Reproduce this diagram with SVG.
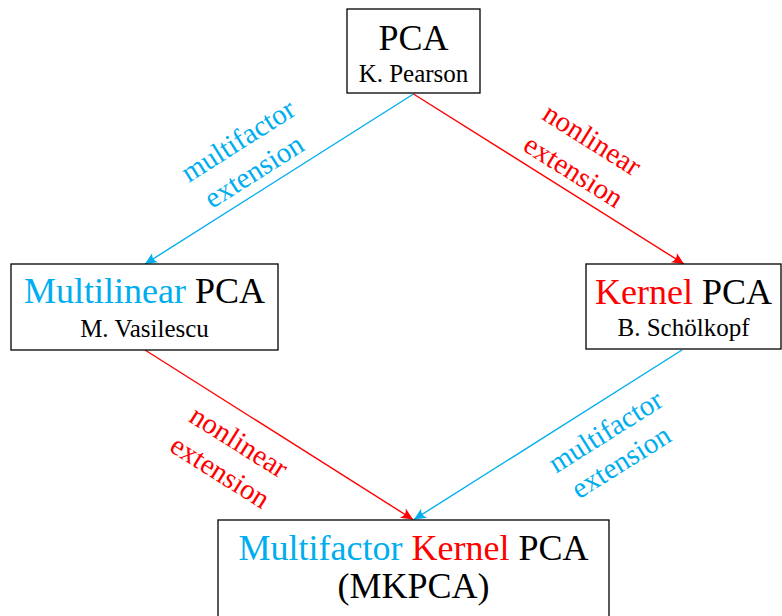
<svg xmlns="http://www.w3.org/2000/svg" width="782" height="616" viewBox="0 0 782 616">
<style>
  text { font-family: "Liberation Serif", "Times New Roman", serif; text-anchor: middle; }
  .box { fill: #ffffff; stroke: #000000; stroke-width: 1.3; }
  .title { font-size: 36px; fill: #000000; }
  .sub { font-size: 25px; fill: #000000; }
  .lbl { font-size: 29px; }
  .blue { fill: #00AEEF; }
  .red { fill: #FF0000; }
  .eb { stroke: #00AEEF; stroke-width: 1.4; fill: none; marker-end: url(#ab); }
  .er { stroke: #FF0000; stroke-width: 1.4; fill: none; marker-end: url(#ar); }
</style>
<defs>
  <marker id="ab" markerUnits="userSpaceOnUse" viewBox="-13 -7 14 14" refX="0" refY="0" markerWidth="14" markerHeight="14" orient="auto">
    <path d="M0,0 L-12,-5.5 Q-7.5,0 -12,5.5 Z" fill="#00AEEF"/>
  </marker>
  <marker id="ar" markerUnits="userSpaceOnUse" viewBox="-13 -7 14 14" refX="0" refY="0" markerWidth="14" markerHeight="14" orient="auto">
    <path d="M0,0 L-12,-5.5 Q-7.5,0 -12,5.5 Z" fill="#FF0000"/>
  </marker>
</defs>
<rect width="782" height="616" fill="#ffffff"/>
<g id="connectors">
  <line class="eb" x1="413.5" y1="94" x2="145" y2="264"/>
  <line class="er" x1="413.5" y1="94" x2="684" y2="264"/>
  <line class="er" x1="145" y1="350" x2="413" y2="519.5"/>
  <line class="eb" x1="682" y1="350" x2="414" y2="519.5"/>
  <g transform="translate(279,179) rotate(-32.4)">
    <text class="lbl blue" x="-14" y="-45">multifactor</text>
    <text class="lbl blue" x="-17" y="-10.5">extension</text>
  </g>
  <g transform="translate(548.5,179) rotate(32.1)">
    <text class="lbl red" x="16" y="-47">nonlinear</text>
    <text class="lbl red" x="17" y="-10.5">extension</text>
  </g>
  <g transform="translate(279,434.5) rotate(32.2)">
    <text class="lbl red" x="-30" y="37">nonlinear</text>
    <text class="lbl red" x="-30" y="72.5">extension</text>
  </g>
  <g transform="translate(547,434.5) rotate(-32.2)">
    <text class="lbl blue" x="51" y="38">multifactor</text>
    <text class="lbl blue" x="48" y="72">extension</text>
  </g>
</g>
<g id="pca">
  <rect class="box" x="347" y="9" width="133" height="84"/>
  <text class="title" x="413.5" y="50">PCA</text>
  <text class="sub" x="413.5" y="82">K. Pearson</text>
</g>
<g id="multilinear">
  <rect class="box" x="11" y="264" width="267" height="86"/>
  <text class="title" x="144.5" y="303"><tspan class="blue">Multilinear</tspan> PCA</text>
  <text class="sub" x="144.5" y="337">M. Vasilescu</text>
</g>
<g id="kernel">
  <rect class="box" x="586" y="264" width="195" height="85"/>
  <text class="title" x="683.5" y="304"><tspan class="red">Kernel</tspan> PCA</text>
  <text class="sub" x="683.5" y="336">B. Schölkopf</text>
</g>
<g id="mkpca">
  <rect class="box" x="218" y="520" width="391" height="110"/>
  <text class="title" x="413.5" y="560"><tspan class="blue">Multifactor</tspan> <tspan class="red">Kernel</tspan> PCA</text>
  <text class="title" x="413.5" y="598">(MKPCA)</text>
</g>
</svg>
